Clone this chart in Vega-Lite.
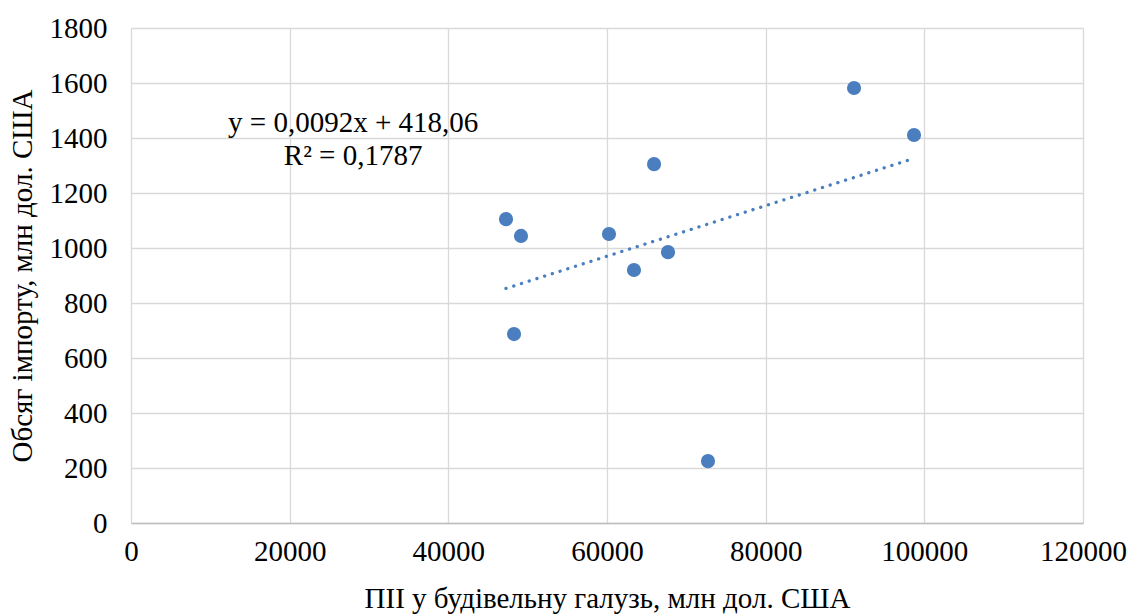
{
  "$schema": "https://vega.github.io/schema/vega-lite/v6.json",
  "autosize": "none",
  "width": 952,
  "height": 495,
  "padding": {"left": 131, "top": 28, "right": 44, "bottom": 92},
  "background": "white",
  "config": {
    "view": {"stroke": null},
    "font": "Liberation Serif",
    "axis": {
      "labelFont": "Liberation Serif",
      "titleFont": "Liberation Serif",
      "labelFontSize": 29,
      "titleFontSize": 29,
      "titleFontWeight": "normal",
      "labelColor": "#000000",
      "titleColor": "#000000",
      "gridColor": "#D9D9D9",
      "gridWidth": 1.3,
      "ticks": false
    }
  },
  "datasets": {
    "points": [
      {"pii": 47270, "imp": 1105},
      {"pii": 49160, "imp": 1044},
      {"pii": 48280, "imp": 687},
      {"pii": 60250, "imp": 1051},
      {"pii": 63400, "imp": 920},
      {"pii": 65930, "imp": 1305},
      {"pii": 67690, "imp": 985},
      {"pii": 72730, "imp": 225},
      {"pii": 91140, "imp": 1582},
      {"pii": 98700, "imp": 1411}
    ],
    "trend": [
      {"pii": 47270, "imp": 853},
      {"pii": 98700, "imp": 1326}
    ],
    "labels": [
      {"pii": 28000, "imp": 1422, "text": "y = 0,0092x + 418,06"},
      {"pii": 28000, "imp": 1302, "text": "R² = 0,1787"}
    ]
  },
  "layer": [
    {
      "data": {"name": "points"},
      "mark": {"type": "point", "filled": true, "opacity": 1, "size": 200, "color": "#4A7EBF"},
      "encoding": {
        "x": {
          "field": "pii", "type": "quantitative",
          "scale": {"domain": [0, 120000], "nice": false},
          "axis": {
            "title": "ПІІ у будівельну галузь, млн дол. США",
            "values": [0, 20000, 40000, 60000, 80000, 100000, 120000],
            "format": "d",
            "labelPadding": 14,
            "titlePadding": 18,
            "domainColor": "#BFBFBF",
            "domainWidth": 1.5,
            "labelFlush": false
          }
        },
        "y": {
          "field": "imp", "type": "quantitative",
          "scale": {"domain": [0, 1800], "nice": false},
          "axis": {
            "title": "Обсяг імпорту, млн дол. США",
            "values": [0, 200, 400, 600, 800, 1000, 1200, 1400, 1600, 1800],
            "format": "d",
            "labelPadding": 24,
            "titlePadding": 12,
            "domain": false,
            "labelFlush": false
          }
        }
      }
    },
    {
      "data": {"name": "trend"},
      "mark": {"type": "line", "color": "#4A7EBF", "strokeWidth": 3.3, "strokeCap": "round", "strokeDash": [0.1, 8]},
      "encoding": {
        "x": {"field": "pii", "type": "quantitative"},
        "y": {"field": "imp", "type": "quantitative"}
      }
    },
    {
      "data": {"name": "labels"},
      "mark": {"type": "text", "font": "Liberation Serif", "fontSize": 29, "align": "center", "baseline": "alphabetic", "color": "#000000"},
      "encoding": {
        "x": {"field": "pii", "type": "quantitative"},
        "y": {"field": "imp", "type": "quantitative"},
        "text": {"field": "text"}
      }
    }
  ]
}
